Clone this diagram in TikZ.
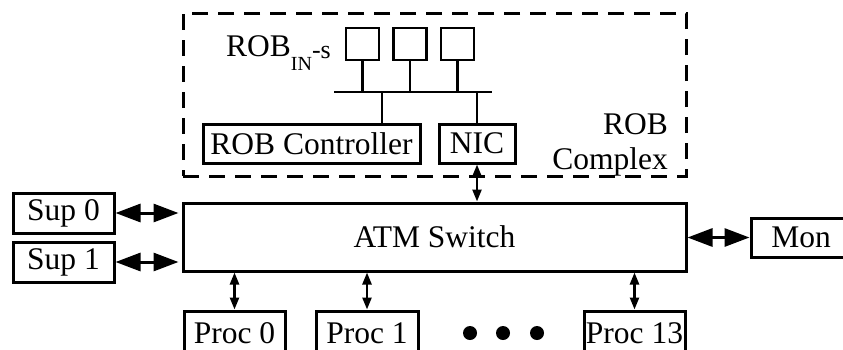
\documentclass[tikz,border=0pt]{standalone}
\usepackage{fontspec}
\setmainfont{Liberation Serif}
\usetikzlibrary{arrows.meta}
\begin{document}
\begin{tikzpicture}[x=1pt,y=-1pt,
  every node/.style={font=\fontsize{31.5}{36}\selectfont, inner sep=0pt},
  box/.style={draw, line width=3pt, minimum height=40pt},
  smallbox/.style={draw, line width=2.8pt},
  wire/.style={line width=2.8pt},
  bigarrow/.style={line width=3pt, {Triangle[length=25pt,width=18pt]}-{Triangle[length=25pt,width=18pt]}},
  smallarrow/.style={line width=2.4pt, {Triangle[length=12pt,width=9pt]}-{Triangle[length=12pt,width=9pt]}},
  dot/.style={circle, fill=black, minimum size=14pt}]
\useasboundingbox (0,0) rectangle (843,349);
\clip (0,0) rectangle (843,349);
% ROB complex (dashed)
\node[draw, line width=3pt, dash pattern=on 16pt off 10pt, minimum width=503pt, minimum height=163pt] (cplx) at (434.5,94.5) {};
\node[anchor=base east] (robc1) at (668,134) {ROB};
\node[anchor=base east] (robc2) at (668,169) {Complex};
% ROB_IN boxes
\node[smallbox, minimum width=33pt, minimum height=32pt] (rin1) at (362.5,44) {};
\node[smallbox, minimum width=33pt, minimum height=32pt] (rin2) at (410,44) {};
\node[smallbox, minimum width=33pt, minimum height=32pt] (rin3) at (457.5,44) {};
\node[anchor=base east] (rinlabel) at (331,56) {ROB\raisebox{-14pt}{\fontsize{20}{20}\selectfont IN}\raisebox{-2pt}{\fontsize{26}{26}\selectfont -s}};
% bus
\coordinate (busL) at (334,92);
\coordinate (busR) at (492,92);
\coordinate (d1) at (382,92);
\draw[wire] (busL) -- (busR);
\draw[wire] (rin1.south) -- (rin1.south |- busL);
\draw[wire] (rin2.south) -- (rin2.south |- busL);
\draw[wire] (rin3.south) -- (rin3.south |- busL);
% controller and NIC
\node[box, minimum width=217pt, minimum height=39pt] (rc) at (311.5,143.5) {ROB Controller};
\node[box, minimum width=76pt, minimum height=39pt] (nic) at (477,143.5) {NIC};
\draw[wire] (d1) -- (d1 |- rc.north);
\draw[wire] (nic.north |- busL) -- (nic.north);
% ATM switch
\node[box, minimum width=503pt, minimum height=68pt] (atm) at (434.5,237) {ATM Switch};
\draw[smallarrow] (nic.south) -- (nic.south |- atm.north);
% Sup and Mon
\node[box, minimum width=101pt] (sup0) at (63.5,213) {Sup 0};
\node[box, minimum width=101pt] (sup1) at (63.5,262) {Sup 1};
\node[box, minimum width=100pt, minimum height=39pt] (mon) at (801,237.5) {Mon};
\draw[bigarrow, shorten >=3pt] (sup0.east) -- (sup0.east -| atm.west);
\draw[bigarrow, shorten >=3pt] (sup1.east) -- (sup1.east -| atm.west);
\draw[bigarrow] (atm.east |- mon.west) -- (mon.west);
% Processors
\node[box, minimum width=101pt, minimum height=44pt] (p0) at (234.5,333) {Proc 0};
\node[box, minimum width=102pt, minimum height=44pt] (p1) at (367,333) {Proc 1};
\node[box, minimum width=101pt, minimum height=44pt] (p13) at (634.5,333) {Proc 13};
\draw[smallarrow] (p0.north |- atm.south) -- (p0.north);
\draw[smallarrow] (p1.north |- atm.south) -- (p1.north);
\draw[smallarrow] (p13.north |- atm.south) -- (p13.north);
\node[dot] (dt1) at (470,333) {};
\node[dot] (dt2) at (503,333) {};
\node[dot] (dt3) at (537,333) {};
\end{tikzpicture}
\end{document}
